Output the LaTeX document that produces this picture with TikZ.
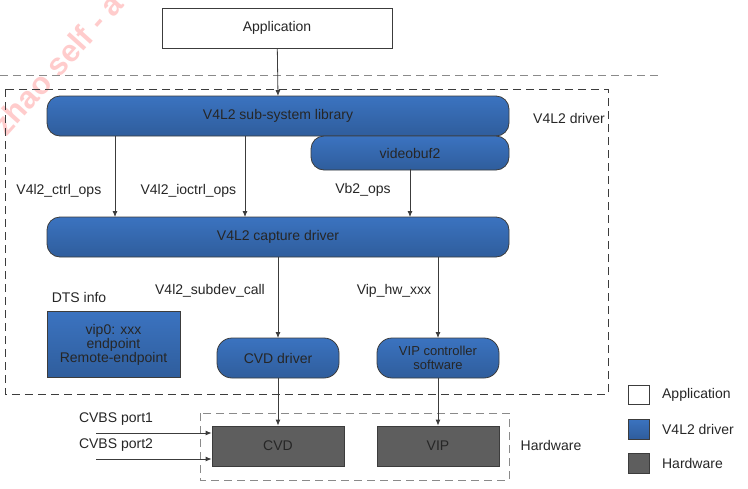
\documentclass[tikz,border=0pt]{standalone}
\usepackage{fontspec}
\setmainfont{Liberation Sans}
\usetikzlibrary{arrows.meta}

\definecolor{drvtop}{HTML}{3B73C0}
\definecolor{drvbot}{HTML}{2F5D9C}
\definecolor{hwgray}{HTML}{5E5E5E}
\definecolor{rimgray}{HTML}{3C3C3C}
\definecolor{dashgray}{HTML}{8A8A8A}

\tikzset{
  drv/.style={draw=rimgray, top color=drvtop, bottom color=drvbot, rounded corners=13pt},
  drvsq/.style={draw=rimgray, top color=drvtop, bottom color=drvbot},
  hw/.style={draw=rimgray, fill=hwgray},
  app/.style={draw=rimgray, fill=white},
  flow/.style={draw=rimgray, -{Latex[length=6pt,width=5pt]}},
  grp/.style={draw=dashgray, dashed, dash pattern=on 8pt off 5pt, thick},
  lbl/.style={font=\fontsize{14}{16}\selectfont, text=black!85}
}

\begin{document}
\begin{tikzpicture}[x=1pt, y=-1pt, line width=0.8pt]
\useasboundingbox (0,0) rectangle (748,488);

% Wasserzeichen
\node[text=red!20, rotate=48, font=\fontsize{31}{33}\selectfont\bfseries, anchor=west, inner sep=0pt] (wm) at (-2,130) {zhao self - a};

% Gruppen
\draw[grp] (0,75) -- (658,75); % Trennlinie
\draw[draw=rimgray, dashed, dash pattern=on 8pt off 5pt] (5,89) rectangle (608,394); % V4L2 driver
\draw[grp] (200,413) rectangle (509,480); % Hardware
\node[lbl] (drvtxt) at (569,118) {V4L2 driver};
\node[lbl] (hwtxt) at (551,445) {Hardware};

% Bloecke
\node[app, lbl, minimum width=230pt, minimum height=40pt] (app) at (277,28) {Application};
\draw[drv] (47,96) rectangle (509,136);
\node[lbl] (lib) at (278,116) {V4L2 sub-system library};
\draw[drv] (311,136) rectangle (509,170);
\node[lbl] (vbuf) at (410,153) {videobuf2};
\draw[drv] (47,217) rectangle (509,257);
\node[lbl] (cap) at (278,237) {V4L2 capture driver};
\draw[drv, rounded corners=15pt] (217,338) rectangle (339,378);
\node[lbl] (cvdd) at (278,358) {CVD driver};
\draw[drv, rounded corners=15pt] (377,338) rectangle (499,378);
\node[lbl, align=center, font=\fontsize{13}{14}\selectfont] (vipc) at (438,358) {VIP controller\\software};
\node[drvsq, lbl, align=center, minimum width=133pt, minimum height=66pt, font=\fontsize{14}{14}\selectfont] (dts) at (113.5,344.5) {vip0: xxx\\endpoint\\Remote-endpoint};
\node[lbl] (dtstxt) at (79,297) {DTS info};
\node[hw, lbl, minimum width=132pt, minimum height=40pt] (cvd) at (278,446) {CVD};
\node[hw, lbl, minimum width=122pt, minimum height=40pt] (vip) at (438,446) {VIP};

% Pfeile
\coordinate (libA) at (115,136);
\coordinate (libB) at (245,136);
\coordinate (capA) at (115,217);
\coordinate (capB) at (245,217);
\coordinate (capC) at (410,217);
\coordinate (capD) at (278,257);
\coordinate (capE) at (438,257);
\coordinate (cvddT) at (278,338);
\coordinate (vipcT) at (438,338);
\draw[flow] (app) -- (278,96);
\draw[flow] (libA) -- (capA) node[lbl, pos=0.68, left=10pt] {V4l2\_ctrl\_ops};
\draw[flow] (libB) -- (capB) node[lbl, pos=0.68, left=5pt] {V4l2\_ioctrl\_ops};
\draw[flow] (vbuf.south -| capC) ++(0,7) -- (capC);
\node[lbl] (vbops) at (363,190) {Vb2\_ops};
\draw[flow] (capD) -- (cvddT);
\node[lbl] (subdev) at (210,291) {V4l2\_subdev\_call};
\draw[flow] (capE) -- (vipcT);
\node[lbl] (hwxxx) at (394,291) {Vip\_hw\_xxx};
\draw[flow] (278,378) -- (cvd.north);
\draw[flow] (438,378) -- (vip.north);

% Eingaenge
\coordinate (in1) at (96,433);
\coordinate (in2) at (96,459);
\draw[flow] (in1) -- (in1 -| cvd.west);
\draw[flow] (in2) -- (in2 -| cvd.west);
\node[lbl] (p1) at (116,419) {CVBS port1};
\node[lbl] (p2) at (116,445) {CVBS port2};

% Legende
\node[app, minimum width=21pt, minimum height=19pt] (lgA) at (638.5,394.5) {};
\node[drvsq, minimum width=21pt, minimum height=20pt] (lgB) at (638.5,429) {};
\node[hw, minimum width=21pt, minimum height=20pt] (lgC) at (638.5,463) {};
\node[lbl, anchor=west] at (lgA.east) [xshift=9pt] {Application};
\node[lbl, anchor=west] at (lgB.east) [xshift=9pt] {V4L2 driver};
\node[lbl, anchor=west] at (lgC.east) [xshift=9pt] {Hardware};

\end{tikzpicture}
\end{document}
